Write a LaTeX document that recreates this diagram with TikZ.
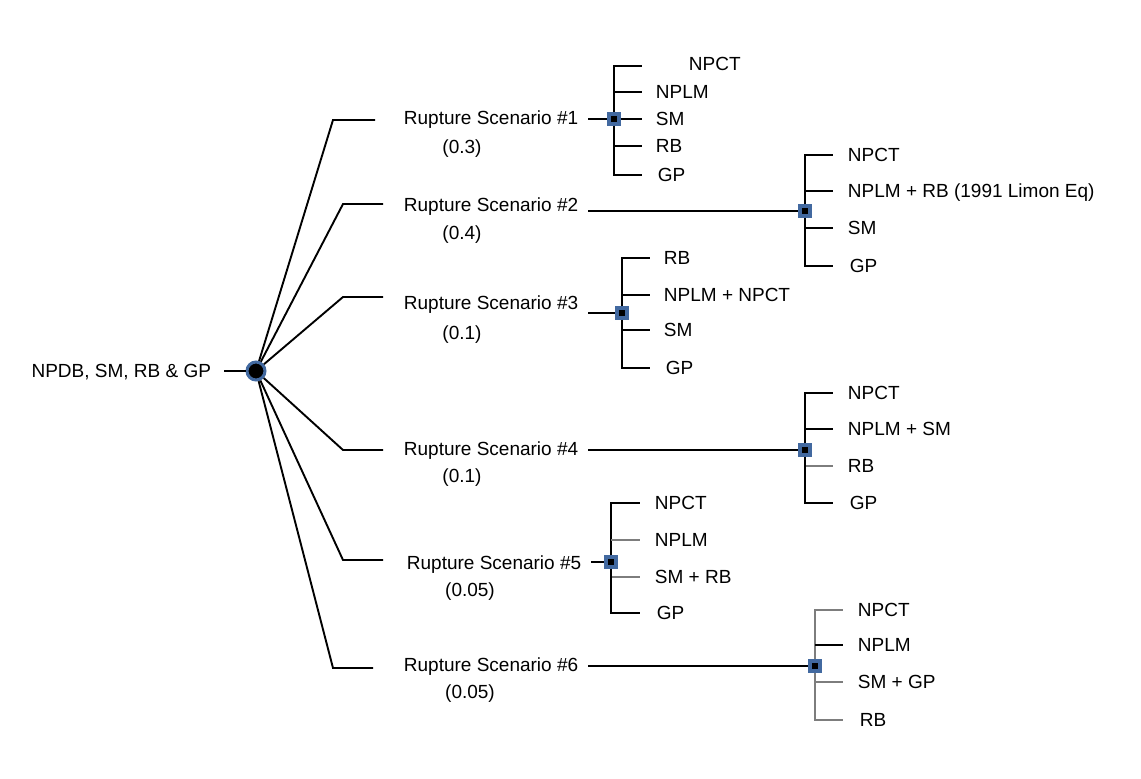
\documentclass[tikz,border=0pt]{standalone}
\usepackage{fontspec}
\setmainfont{Liberation Sans}
\usetikzlibrary{positioning}
\definecolor{jblue}{RGB}{66,105,160}
\definecolor{lgray}{RGB}{125,125,125}

\begin{document}
\begin{tikzpicture}[
			x = 1pt, y = -1pt,
			line width = 1.9pt,
			every node/.style = {font = \fontsize{19}{22}\selectfont},
			rootlabel/.style = {anchor = east, inner xsep = 12pt, inner ysep = 0pt, text height = 13.6pt, text depth = 0pt},
			origin/.style = {circle, fill = black, draw = jblue, line width = 3pt, minimum size = 18pt, inner sep = 0pt},
			scenario/.style = {anchor = west, inner xsep = 9pt, inner ysep = 0pt, text height = 13.6pt, text depth = 0pt},
			weight/.style = {inner sep = 0pt, text height = 13.6pt, text depth = 0pt},
			junction/.style = {rectangle, fill = black, draw = jblue, line width = 3.2pt, minimum size = 10pt, inner sep = 0pt},
			model/.style = {anchor = west, inner sep = 0pt, text height = 13.6pt, text depth = 0pt},
			faint/.style = {draw = lgray}
		]
		\useasboundingbox (0,0) rectangle (1141,779);

		% root
		\node[origin] (root) at (256,371) {};
		\node[rootlabel] (npdb) at (224,371) {NPDB, SM, RB \& GP};
		\draw (npdb) -- (root);

		% scenarios
		\node[scenario] (s1) at (394,118) {Rupture Scenario \#1};
		\node[weight] (w1) at (462,147) {(0.3)};
		\node[scenario] (s2) at (394,205) {Rupture Scenario \#2};
		\node[weight] (w2) at (462,233) {(0.4)};
		\node[scenario] (s3) at (394,303) {Rupture Scenario \#3};
		\node[weight] (w3) at (462,333) {(0.1)};
		\node[scenario] (s4) at (394,449) {Rupture Scenario \#4};
		\node[weight] (w4) at (462,476) {(0.1)};
		\node[scenario] (s5) at (397,563) {Rupture Scenario \#5};
		\node[weight] (w5) at (470,590) {(0.05)};
		\node[scenario] (s6) at (394,665) {Rupture Scenario \#6};
		\node[weight] (w6) at (470,692) {(0.05)};

		\coordinate (e1) at (333,120);
		\coordinate (h1) at (375,120);
		\coordinate (e2) at (343,204);
		\coordinate (h2) at (383,204);
		\coordinate (e3) at (343,297);
		\coordinate (h3) at (383,297);
		\coordinate (e4) at (343,450);
		\coordinate (h4) at (383,450);
		\coordinate (e5) at (343,560);
		\coordinate (h5) at (383,560);
		\coordinate (e6) at (333,668);
		\coordinate (h6) at (373,668);

		\draw (root) -- (e1) -- (h1);
		\draw (root) -- (e2) -- (h2);
		\draw (root) -- (e3) -- (h3);
		\draw (root) -- (e4) -- (h4);
		\draw (root) -- (e5) -- (h5);
		\draw (root) -- (e6) -- (h6);

		% junctions
		\node[junction] (q1) at (614,119) {};
		\node[junction] (q2) at (805,211) {};
		\node[junction] (q3) at (622,313) {};
		\node[junction] (q4) at (805,450) {};
		\node[junction] (q5) at (611,562) {};
		\node[junction] (q6) at (815,666) {};

		\draw (s1.east |- q1) -- (q1);
		\draw (s2.east |- q2) -- (q2);
		\draw (s3.east |- q3) -- (q3);
		\draw (s4.east |- q4) -- (q4);
		\draw (s5.east |- q5) -- (q5);
		\draw (s6.east |- q6) -- (q6);

		% scenario 1
		\node[model] (m11) at (688,64) {NPCT};
		\node[model] (m12) at (655,92) {NPLM};
		\node[model] (m13) at (655,119) {SM};
		\node[model] (m14) at (655,146) {RB};
		\node[model] (m15) at (657,175) {GP};
		\draw (q1) -- (q1 |- 0,66) -- ++(28,0);
		\draw (q1 |- m12) -- ++(28,0);
		\draw (q1.east) -- (q1.east -| 642,0);
		\draw (q1 |- m14) -- ++(28,0);
		\draw (q1) -- (q1 |- m15) -- ++(28,0);

		% scenario 2
		\node[model] (m21) at (847,155) {NPCT};
		\node[model] (m22) at (847,191) {NPLM + RB (1991 Limon Eq)};
		\node[model] (m23) at (847,228) {SM};
		\node[model] (m24) at (849,266) {GP};
		\draw (q2) -- (q2 |- m21) -- ++(28,0);
		\draw (q2 |- m22) -- ++(28,0);
		\draw (q2 |- m23) -- ++(28,0);
		\draw (q2) -- (q2 |- m24) -- ++(28,0);

		% scenario 3
		\node[model] (m31) at (663,258) {RB};
		\node[model] (m32) at (663,295) {NPLM + NPCT};
		\node[model] (m33) at (663,330) {SM};
		\node[model] (m34) at (665,368) {GP};
		\draw (q3) -- (q3 |- m31) -- ++(28,0);
		\draw (q3 |- m32) -- ++(28,0);
		\draw (q3 |- m33) -- ++(28,0);
		\draw (q3) -- (q3 |- m34) -- ++(28,0);

		% scenario 4
		\node[model] (m41) at (847,393) {NPCT};
		\node[model] (m42) at (847,429) {NPLM + SM};
		\node[model] (m43) at (847,466) {RB};
		\node[model] (m44) at (849,503) {GP};
		\draw (q4) -- (q4 |- m41) -- ++(28,0);
		\draw (q4 |- m42) -- ++(28,0);
		\draw[faint] (q4 |- m43) -- ++(28,0);
		\draw (q4) -- (q4 |- m44) -- ++(28,0);

		% scenario 5
		\node[model] (m51) at (654,503) {NPCT};
		\node[model] (m52) at (654,540) {NPLM};
		\node[model] (m53) at (654,577) {SM + RB};
		\node[model] (m54) at (656,613) {GP};
		\draw (q5) -- (q5 |- m51) -- ++(29,0);
		\draw[faint] (q5 |- m52) -- ++(29,0);
		\draw[faint] (q5 |- m53) -- ++(29,0);
		\draw (q5) -- (q5 |- m54) -- ++(29,0);

		% scenario 6
		\node[model] (m61) at (857,610) {NPCT};
		\node[model] (m62) at (857,645) {NPLM};
		\node[model] (m63) at (857,682) {SM + GP};
		\node[model] (m64) at (859,720) {RB};
		\draw[faint] (q6) -- (q6 |- m61) -- ++(28,0);
		\draw (q6 |- m62) -- ++(28,0);
		\draw[faint] (q6 |- m63) -- ++(28,0);
		\draw[faint] (q6) -- (q6 |- m64) -- ++(28,0);
	\end{tikzpicture}
\end{document}
